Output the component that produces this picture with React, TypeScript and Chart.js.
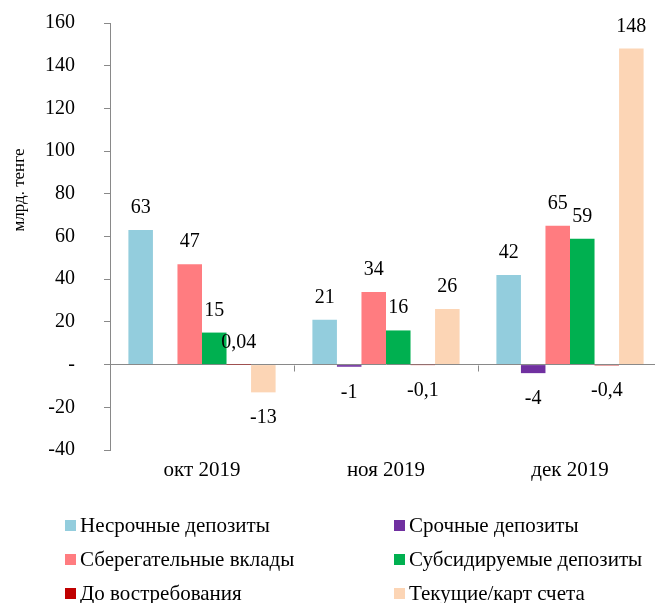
import React, { useEffect, useRef } from 'react';
import { Chart, registerables } from 'chart.js';

Chart.register(...registerables);

const categories = ['окт 2019', 'ноя 2019', 'дек 2019'];
const seriesNames = [
  'Несрочные депозиты',
  'Срочные депозиты',
  'Сберегательные вклады',
  'Субсидируемые депозиты',
  'До востребования',
  'Текущие/карт счета',
];
const seriesColors = ['#93CDDD', '#7030A0', '#FF7C80', '#00B050', '#C00000', '#FCD5B5'];
const nonTermDeposits = [63, 21, 42];
const termDeposits = [null, -1, -4];
const savingsDeposits = [47, 34, 65];
const subsidizedDeposits = [15, 16, 59];
const demandDeposits = [0.04, -0.1, -0.4];
const currentAccounts = [-13, 26, 148];
const yTickLabels = ['-40', '-20', '-', '20', '40', '60', '80', '100', '120', '140', '160'];
const yAxisTitle = 'млрд. тенге';

const FONT = "'Liberation Serif', 'Times New Roman', serif";
const AXIS_GRAY = '#898989';

const valueLabelsPlugin = {
  id: 'valueLabels',
  afterDatasetsDraw(chart: any) {
    const ctx = chart.ctx;
    ctx.save();
    ctx.font = `20px ${FONT}`;
    ctx.fillStyle = '#000';
    ctx.textAlign = 'center';
    ctx.textBaseline = 'alphabetic';
    chart.data.datasets.forEach((ds: any, di: number) => {
      const meta = chart.getDatasetMeta(di);
      meta.data.forEach((el: any, i: number) => {
        const v = ds.data[i];
        if (v === null || v === undefined) return;
        const { x, y } = el.getProps(['x', 'y'], true);
        const text = String(v).replace('.', ',');
        ctx.fillText(text, x, v >= 0 ? y - 17 : y + 31);
      });
    });
    ctx.restore();
  },
};

const axisExtrasPlugin = {
  id: 'axisExtras',
  afterDraw(chart: any) {
    const ctx = chart.ctx;
    const xs = chart.scales.x;
    const ys = chart.scales.y;
    const y0 = Math.round(ys.getPixelForValue(0)) + 0.5;
    ctx.save();
    ctx.strokeStyle = AXIS_GRAY;
    ctx.lineWidth = 1;
    for (let i = 1; i <= categories.length; i++) {
      const x = Math.round(xs.getPixelForValue(i - 0.5)) + 0.5;
      ctx.beginPath();
      ctx.moveTo(x, y0);
      ctx.lineTo(x, y0 + 6);
      ctx.stroke();
    }
    // y axis title
    ctx.fillStyle = '#000';
    ctx.font = `17px ${FONT}`;
    ctx.textAlign = 'center';
    ctx.textBaseline = 'middle';
    ctx.translate(20, 190);
    ctx.rotate(-Math.PI / 2);
    ctx.fillText(yAxisTitle, 0, 0);
    ctx.restore();

    // legend
    ctx.save();
    ctx.font = `21px ${FONT}`;
    ctx.textBaseline = 'middle';
    ctx.textAlign = 'left';
    chart.data.datasets.forEach((ds: any, i: number) => {
      const col = i % 2;
      const row = Math.floor(i / 2);
      const sx = col === 0 ? 65 : 394;
      const cy = 526 + row * 34;
      ctx.fillStyle = ds.backgroundColor;
      ctx.fillRect(sx, cy - 6, 11, 11);
      ctx.fillStyle = '#000';
      ctx.fillText(ds.label, sx + 15, cy);
    });
    ctx.restore();
  },
};

export default function App() {
  const canvasRef = useRef<HTMLCanvasElement | null>(null);

  useEffect(() => {
    if (!canvasRef.current) return;
    const seriesData = [
      nonTermDeposits,
      termDeposits,
      savingsDeposits,
      subsidizedDeposits,
      demandDeposits,
      currentAccounts,
    ];
    const chart = new Chart(canvasRef.current, {
      type: 'bar',
      data: {
        labels: categories,
        datasets: seriesData.map((d, i) => ({
          label: seriesNames[i],
          data: d as any,
          backgroundColor: seriesColors[i],
          borderWidth: 0,
          categoryPercentage: 0.8,
          barPercentage: 1,
        })),
      },
      options: {
        responsive: false,
        animation: false,
        events: [],
        layout: { padding: { left: 0, right: 8, top: 23, bottom: 121 } },
        font: { family: FONT },
        plugins: {
          legend: { display: false },
          tooltip: { enabled: false },
        },
        scales: {
          x: {
            afterFit: (scale: any) => {
              scale.height = 32;
              scale.paddingLeft = 0;
              scale.paddingRight = 0;
            },
            grid: { display: false, drawTicks: false },
            border: { display: false },
            ticks: { color: '#000', padding: 8, font: { size: 21, family: FONT } },
          },
          y: {
            min: -40,
            max: 160,
            afterFit: (scale: any) => {
              scale.width = 110;
              scale.paddingTop = 0;
              scale.paddingBottom = 0;
            },
            ticks: {
              stepSize: 20,
              color: '#000',
              padding: 29,
              font: { size: 20, family: FONT },
              callback: (_v: any, i: number) => yTickLabels[i],
            },
            grid: {
              drawOnChartArea: true,
              color: (c: any) => (c.tick && c.tick.value === 0 ? AXIS_GRAY : 'rgba(0,0,0,0)'),
              tickColor: AXIS_GRAY,
              tickLength: 6,
            },
            border: { display: true, color: AXIS_GRAY },
          },
        },
      },
      plugins: [valueLabelsPlugin, axisExtrasPlugin],
    } as any);
    return () => chart.destroy();
  }, []);

  return (
    <div style={{ position: 'absolute', left: 0, top: 0, width: 655, height: 603, overflow: 'hidden', background: '#fff' }}>
      <canvas ref={canvasRef} width={670} height={603} style={{ display: 'block' }} />
    </div>
  );
}
